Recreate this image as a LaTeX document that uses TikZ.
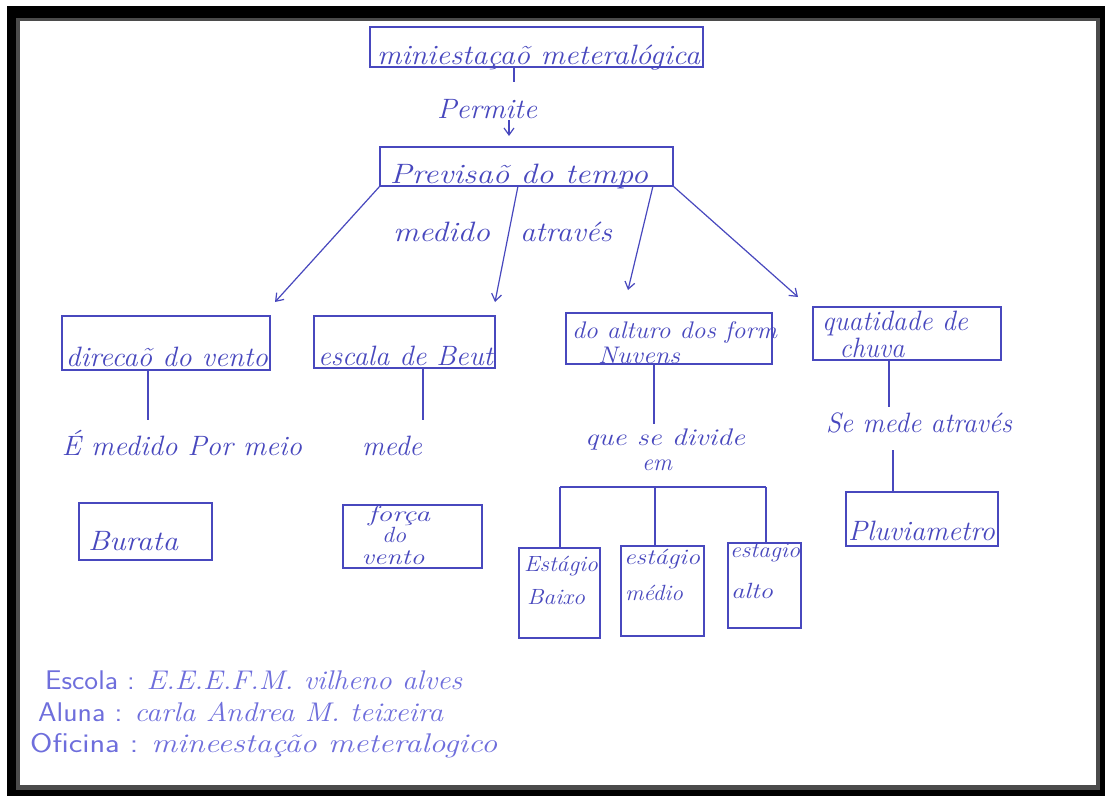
\documentclass[tikz,border=0pt]{standalone}
\usepackage{fontspec}
\usepackage{graphicx}
\usetikzlibrary{arrows.meta,calc}
\definecolor{ink}{RGB}{72,72,190}
\definecolor{inklight}{RGB}{110,110,220}
\definecolor{framegrey}{RGB}{75,75,75}
\newcommand\hw[2]{\resizebox{#1pt}{\height}{#2}}
\begin{document}
\begin{tikzpicture}[x=1pt,y=-1pt,
  box/.style={draw=ink, line width=1.2pt, inner sep=0pt, outer sep=0pt},
  hand/.style={text=ink, inner sep=0pt, anchor=base, font=\fontsize{28}{32}\selectfont\itshape},
  mid/.style={hand, font=\fontsize{24}{28}\selectfont\itshape},
  small/.style={hand, font=\fontsize{22}{26}\selectfont\itshape},
  conn/.style={draw=ink, line width=1.2pt},
  arr/.style={conn, -{Straight Barb[length=7pt,width=10pt]}},
  foot/.style={text=inklight, inner sep=0pt, anchor=base west, font=\fontsize{27}{32}\selectfont}
]
\useasboundingbox (0,0) rectangle (1105,796);
% frame
\fill[black] (7,6) rectangle (1105,796);
\fill[framegrey] (16,18) rectangle (1100,790);
\fill[white] (20,21) rectangle (1096,785);

% boxes
\node[box, minimum width=333, minimum height=40] (top) at (536.5,47) {};
\node[box, minimum width=293, minimum height=39] (prev) at (526.5,166.5) {};
\node[box, minimum width=208, minimum height=54] (dir) at (166,343) {};
\node[box, minimum width=181, minimum height=52] (esc) at (404.5,342) {};
\node[box, minimum width=206, minimum height=51] (nuv) at (669,338.5) {};
\node[box, minimum width=188, minimum height=53] (chu) at (907,333.5) {};
\node[box, minimum width=133, minimum height=57] (bur) at (145.5,531.5) {};
\node[box, minimum width=139, minimum height=63] (frc) at (412.5,536.5) {};
\node[box, minimum width=81, minimum height=90] (bai) at (559.5,593) {};
\node[box, minimum width=83, minimum height=90] (med) at (662.5,591) {};
\node[box, minimum width=73, minimum height=85] (alt) at (764.5,585.5) {};
\node[box, minimum width=152, minimum height=54] (plu) at (922,519) {};

% texts
\node[hand] (ttop) at (538.5,64) {\hw{323}{miniestaçaõ meteralógica}};
\node[hand] (perm) at (487,118) {\hw{100}{Permite}};
\node[hand] (tprev) at (519,183) {\hw{258}{Previsaõ do tempo}};
\node[hand] (tmed) at (441.5,241) {\hw{97}{medido}};
\node[hand] (tatr) at (566,241) {\hw{92}{através}};
\node[hand] (tdir) at (167,366) {\hw{202}{direcaõ do vento}};
\node[hand] (tesc) at (405.5,365) {\hw{175}{escala de Beut}};
\node[mid] (tnuv1) at (674.5,338) {\hw{205}{do alturo dos form}};
\node[mid] (tnuv2) at (639,363) {\hw{82}{Nuvens}};
\node[hand] (tchu1) at (895,330) {\hw{146}{quatidade de}};
\node[hand] (tchu2) at (872,357) {\hw{65}{chuva}};
\node[hand] (lmedido) at (182,455) {\hw{240}{É medido Por meio}};
\node[hand] (lmede) at (392,455) {\hw{60}{mede}};
\node[mid] (ldiv1) at (665,445) {\hw{160}{que se divide}};
\node[mid] (ldiv2) at (657,470) {\hw{30}{em}};
\node[hand] (latr) at (919,432) {\hw{186}{Se mede através}};
\node[hand] (tbur) at (133,550) {\hw{90}{Burata}};
\node[small] (tfrc1) at (399,521) {\hw{62}{força}};
\node[small] (tfrc2) at (394,542) {\hw{24}{do}};
\node[small] (tfrc3) at (393,564) {\hw{63}{vento}};
\node[small] (tbai1) at (561,571) {\hw{74}{Estágio}};
\node[small] (tbai2) at (556,604) {\hw{58}{Baixo}};
\node[small] (tmed1) at (662,564) {\hw{76}{estágio}};
\node[small] (tmed2) at (654,600) {\hw{58}{médio}};
\node[small] (talt1) at (765,557) {\hw{70}{estagio}};
\node[small] (talt2) at (752,598) {\hw{42}{alto}};
\node[hand] (tplu) at (921.5,540) {\hw{147}{Pluviametro}};

% footer
\node[foot] (f1) at (45,689) {\hw{417}{{\sffamily Escola :} {\itshape E.E.E.F.M. vilheno alves}}};
\node[foot] (f2) at (38,721) {\hw{405}{{\sffamily Aluna :} {\itshape carla Andrea M. teixeira}}};
\node[foot] (f3) at (30,752) {\hw{467}{{\sffamily Oficina :} {\itshape mineestação meteralogico}}};

% connectors
\coordinate (c1) at (514,82);
\draw[conn] (top.south -| c1) -- (c1);
\coordinate (a1) at (509,0);
\draw[arr, shorten <=2pt, shorten >=11pt] (perm.south -| a1) -- (prev.north -| a1);

\coordinate (e1) at (275,302);
\draw[arr] (prev.south west) -- (e1);
\coordinate (s2) at (518,0); \coordinate (e2) at (495,302);
\draw[arr] (prev.south -| s2) -- (e2);
\coordinate (s3) at (653,0); \coordinate (e3) at (628,290);
\draw[arr] (prev.south -| s3) -- (e3);
\coordinate (e4) at (798,297);
\draw[arr] (prev.south east) -- (e4);

\coordinate (v1) at (148,420); \draw[conn] (dir.south -| v1) -- (v1);
\coordinate (v2) at (423,420); \draw[conn] (esc.south -| v2) -- (v2);
\coordinate (v3) at (654,424); \draw[conn] (nuv.south -| v3) -- (v3);
\coordinate (v4) at (889,407); \draw[conn] (chu.south -| v4) -- (v4);
\coordinate (v5) at (893,450); \draw[conn] (v5) -- (v5 |- plu.north);

\coordinate (bl) at (560,487); \coordinate (bm) at (655,487); \coordinate (br) at (766,487);
\draw[conn] (bl) -- (br);
\draw[conn] (bl) -- (bl |- bai.north);
\draw[conn] (bm) -- (bm |- med.north);
\draw[conn] (br) -- (br |- alt.north);
\end{tikzpicture}
\end{document}
